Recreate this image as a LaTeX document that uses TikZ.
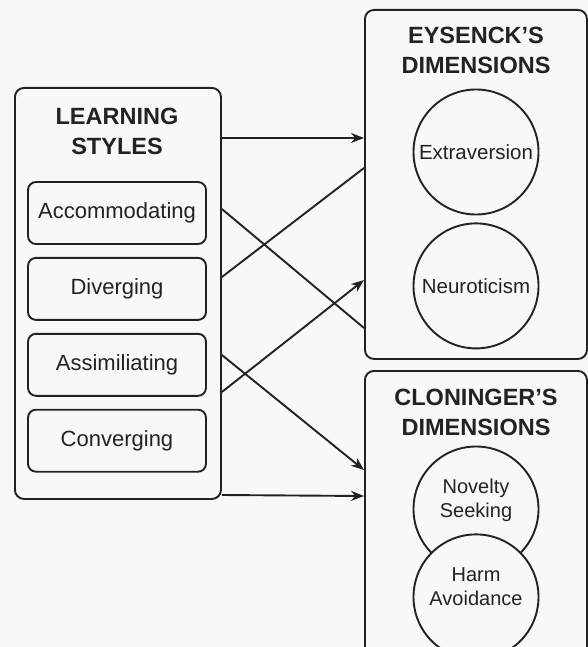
\documentclass[tikz,border=0pt]{standalone}
\usepackage{fontspec}
\setmainfont{Liberation Sans}
\usetikzlibrary{positioning,arrows.meta}
\definecolor{bg}{HTML}{F8F8F8}
\definecolor{ink}{HTML}{222222}

\begin{document}
\begin{tikzpicture}[x=1pt, y=-1pt, color=ink, line width=1.9pt,
>={Stealth[length=13pt,width=10pt]},
group box/.style={draw,rounded corners=9pt,fill=bg,anchor=north west,inner sep=0pt},
title node/.style={align=center,font=\fontsize{23.5}{30}\selectfont\bfseries},
style node/.style={draw,rounded corners=8pt,minimum width=178pt,minimum height=62pt,inner sep=0pt,font=\fontsize{22}{26}\selectfont},
main node/.style={circle,draw,fill=bg,minimum size=125pt,inner sep=0pt,align=center,font=\fontsize{20.5}{24}\selectfont},
circ text/.style={align=center,font=\fontsize{20}{24}\selectfont}]

\fill[bg] (0,0) rectangle (588,647);
\useasboundingbox (0,0) rectangle (588,647);

\node[group box, minimum width=206pt, minimum height=411pt] (learn) at (14,87) {};
\node[group box, minimum width=222pt, minimum height=349pt] (eys) at (364,9) {};
\node[group box, minimum width=222pt, minimum height=300pt] (clon) at (364,370) {};

\node[title node] (learnT) at (117,131) {LEARNING\\STYLES};
\node[title node] (eysT) at (476,50) {EYSENCK’S\\DIMENSIONS};
\node[title node] (clonT) at (476,412) {CLONINGER’S\\DIMENSIONS};

\node[style node] (acc) at (117,213) {Accommodating};
\node[style node] (div) [below=12pt of acc] {Diverging};
\node[style node] (ass) [below=12pt of div] {Assimiliating};
\node[style node] (conv) [below=12pt of ass] {Converging};

\node[main node] (ext) at (476,152) {Extraversion};
\node[main node] (neu) [below=7pt of ext] {Neuroticism};
\node[main node] [label={[circ text,yshift=9pt]center:Novelty\\Seeking}] (nov) at (476,509) {};
\node[main node] [label={[circ text,yshift=10pt]center:Harm\\Avoidance}] (harm) [below=-39pt of nov] {};

\path
([yshift=-51pt]learn.north east) [->] edge ([yshift=-129pt]eys.north west)
([yshift=-122pt]learn.north east) [-] edge ([yshift=-319pt]eys.north west)
([yshift=-190pt]learn.north east) [-] edge ([yshift=-159pt]eys.north west)
([yshift=-268pt]learn.north east) [->] edge ([yshift=-100pt]clon.north west)
([yshift=-305pt]learn.north east) [->] edge ([yshift=-271pt]eys.north west)
([yshift=-408pt]learn.north east) [->] edge ([yshift=-126pt]clon.north west);
\end{tikzpicture}
\end{document}
